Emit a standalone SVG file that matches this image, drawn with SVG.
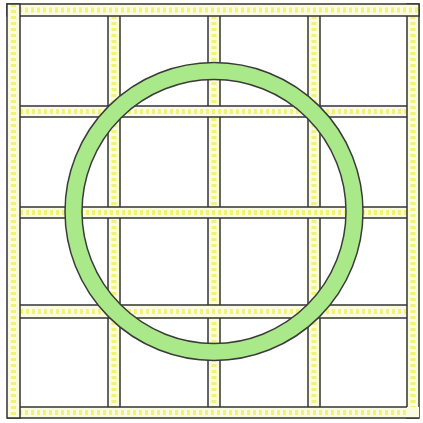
<svg xmlns="http://www.w3.org/2000/svg" width="423" height="423" viewBox="0 0 423 423">
<style>
.sf{fill:#fbfbe2;stroke:none}
.dv{stroke:#f0f27a;stroke-width:5;stroke-dasharray:3 3;fill:none}
.ln{stroke:#333;stroke-width:1.5;fill:none}
.ring{fill:#aae98a;stroke:#3a3a3a;stroke-width:1.5;fill-rule:evenodd}
</style>
<rect width="423" height="423" fill="#fff"/>
<g id="grid">
  <g id="v2"><rect class="sf" x="108" y="16" width="12" height="391"/><line class="dv" x1="114" y1="16" x2="114" y2="407"/><line class="ln" x1="108" y1="16" x2="108" y2="407"/><line class="ln" x1="120" y1="16" x2="120" y2="407"/></g>
  <g id="v3"><rect class="sf" x="208" y="16" width="12" height="391"/><line class="dv" x1="214" y1="16" x2="214" y2="407"/><line class="ln" x1="208" y1="16" x2="208" y2="407"/><line class="ln" x1="220" y1="16" x2="220" y2="407"/></g>
  <g id="v4"><rect class="sf" x="308" y="16" width="12" height="391"/><line class="dv" x1="314" y1="16" x2="314" y2="407"/><line class="ln" x1="308" y1="16" x2="308" y2="407"/><line class="ln" x1="320" y1="16" x2="320" y2="407"/></g>
  <g id="h2"><rect class="sf" x="20" y="106" width="387" height="11"/><line class="dv" x1="20" y1="111.5" x2="407" y2="111.5"/><line class="ln" x1="20" y1="106" x2="407" y2="106"/><line class="ln" x1="20" y1="117" x2="407" y2="117"/></g>
  <g id="h3"><rect class="sf" x="20" y="207" width="387" height="11"/><line class="dv" x1="20" y1="212.5" x2="407" y2="212.5"/><line class="ln" x1="20" y1="207" x2="407" y2="207"/><line class="ln" x1="20" y1="218" x2="407" y2="218"/></g>
  <g id="h4"><rect class="sf" x="20" y="305" width="387" height="13"/><line class="dv" x1="20" y1="311.5" x2="407" y2="311.5"/><line class="ln" x1="20" y1="305" x2="407" y2="305"/><line class="ln" x1="20" y1="318" x2="407" y2="318"/></g>
  <g id="right"><rect class="sf" x="407" y="4" width="12" height="414"/><line class="dv" x1="413" y1="4" x2="413" y2="418"/><rect class="ln" x="407" y="4" width="12" height="414"/></g>
  <g id="bottom"><rect class="sf" x="7" y="407" width="412" height="11"/><line class="dv" x1="7" y1="412.5" x2="407" y2="412.5"/><line class="ln" x1="20" y1="407" x2="407" y2="407"/><line class="ln" x1="7" y1="418" x2="419" y2="418"/></g>
  <g id="top"><rect class="sf" x="7" y="4" width="412" height="12"/><line class="dv" x1="7" y1="10" x2="419" y2="10"/><rect class="ln" x="7" y="4" width="412" height="12"/></g>
  <g id="left"><rect class="sf" x="7" y="4" width="13" height="414"/><line class="dv" x1="13.5" y1="4" x2="13.5" y2="418"/><rect class="ln" x="7" y="4" width="13" height="414"/></g>
</g>
<g id="circle">
  <path class="ring" d="M65,211.5 a149,149 0 1,0 298,0 a149,149 0 1,0 -298,0 Z M82,211.5 a132,132 0 1,0 264,0 a132,132 0 1,0 -264,0 Z"/>
</g>
</svg>
